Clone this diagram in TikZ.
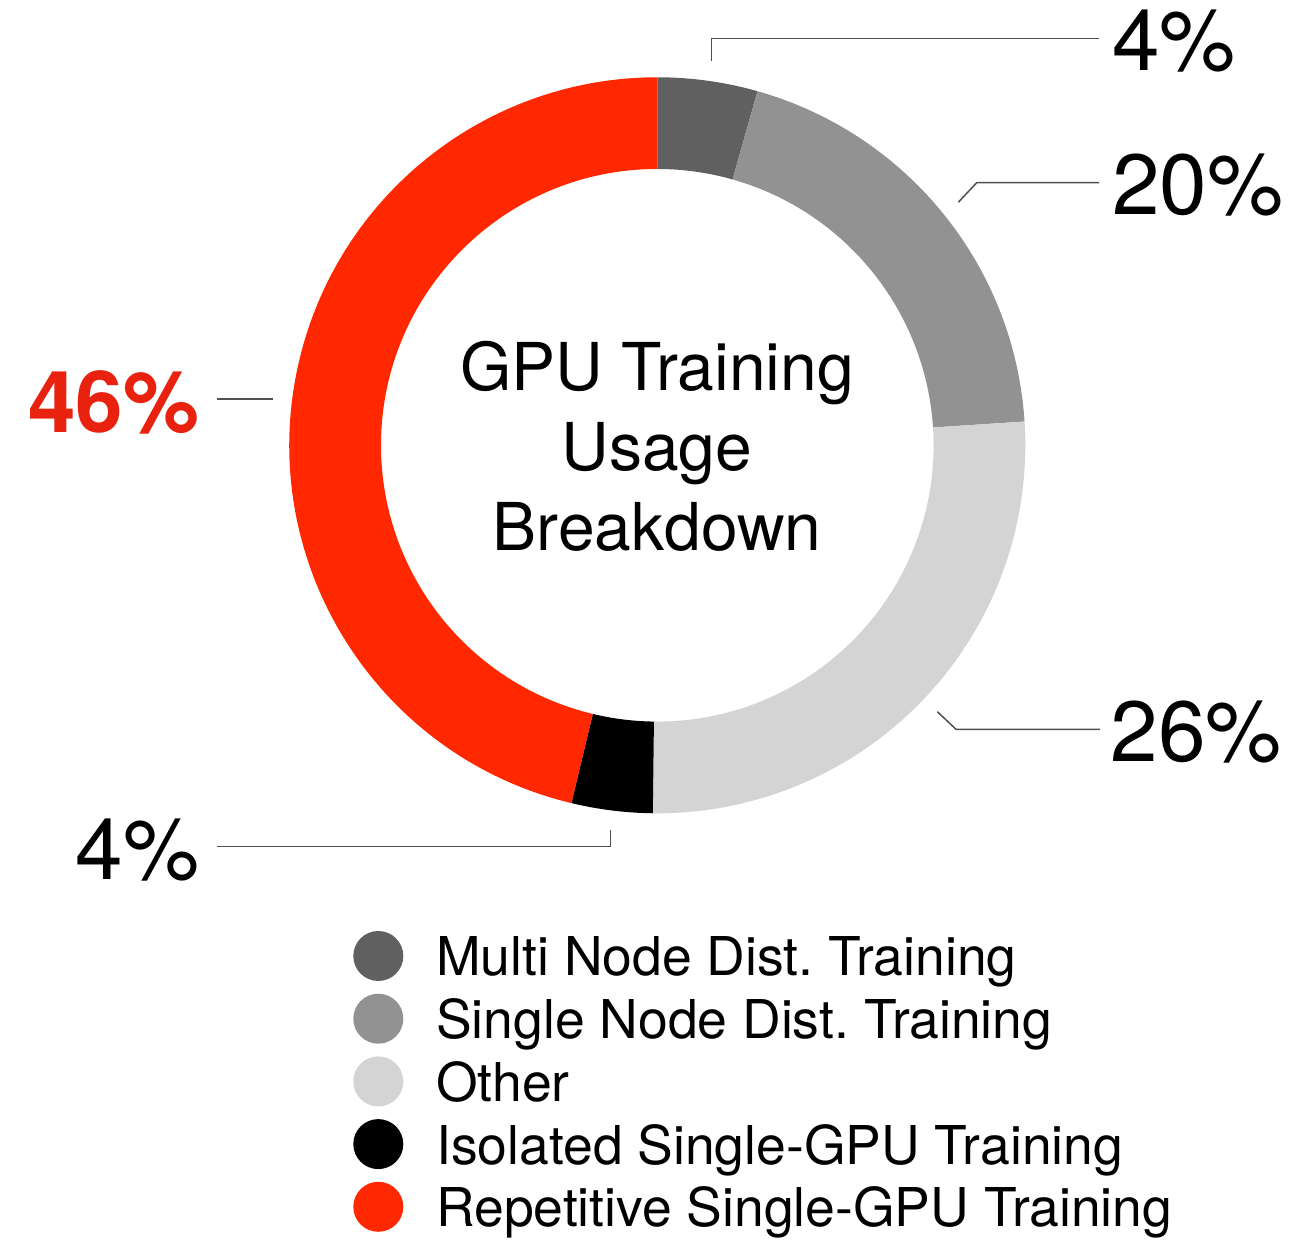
\documentclass[tikz,border=0pt]{standalone}
\usepackage{fontspec}
\setmainfont{TeX Gyre Heros}
\usetikzlibrary{calc}
\frenchspacing
\definecolor{cmulti}{RGB}{96,96,96}
\definecolor{csingle}{RGB}{146,146,146}
\definecolor{cother}{RGB}{212,212,212}
\definecolor{ciso}{RGB}{0,0,0}
\definecolor{crep}{RGB}{255,40,0}
\definecolor{credtext}{RGB}{232,34,14}
\definecolor{cleader}{RGB}{80,80,80}
\begin{document}
\begin{tikzpicture}[x=1pt,y=1pt,
  pct/.style={inner sep=0pt, font=\fontsize{85.5}{96}\selectfont},
  title/.style={inner sep=0pt, anchor=base, font=\fontsize{66}{80}\selectfont},
  legtext/.style={inner sep=0pt, anchor=base west, font=\fontsize{53.5}{64}\selectfont},
  legdot/.style={circle, inner sep=0pt, minimum size=50pt},
  leader/.style={draw=cleader, line width=1.5pt}]
\useasboundingbox (0,0) rectangle (1292,1241);
\fill[white] (0,0) rectangle (1292,1241);
\coordinate (C) at (657.3,795.7);
\def\Ro{368}
\def\Ri{276.3}
% donut segments
\foreach \a/\b/\c in {90/74.2/cmulti, 74.2/3.7/csingle, 3.7/-90.7/cother, -90.7/-103.5/ciso, -103.5/-270/crep}{
  \fill[\c] ($(C)+(\a:\Ro)$) arc[start angle=\a, end angle=\b, radius=\Ro]
    -- ($(C)+(\b:\Ri)$) arc[start angle=\b, end angle=\a, radius=\Ri] -- cycle;
}
% centre title
\node[title] (t1) at (657,850) {GPU Training};
\node[title] (t2) at (657,770) {Usage};
\node[title] (t3) at (657,690) {Breakdown};
% percentage labels
\node[pct, anchor=base west] (p1) at (1112,1170.3) {4\%};
\node[pct, anchor=base west] (p2) at (1112,1026) {20\%};
\node[pct, anchor=base west] (p3) at (1110.5,479.3) {26\%};
\node[pct, anchor=base east, text=credtext, font=\fontsize{85.5}{96}\selectfont\bfseries] (p5) at (199.5,808.3) {46\%};
\node[pct, anchor=base east] (p4) at (199.5,361) {4\%};
% leader lines
\coordinate (l1a) at (711.7,1180.3);
\coordinate (l1b) at (711.7,1202.7);
\coordinate (l1c) at (1099,1202.7);
\draw[leader] (l1a) -- (l1b) -- (l1c);
\coordinate (l2a) at (958.3,1038.7);
\coordinate (l2b) at (976.7,1058.3);
\coordinate (l2c) at (1099,1058.3);
\draw[leader] (l2a) -- (l2b) -- (l2c);
\coordinate (l3a) at (937.3,529.3);
\coordinate (l3b) at (956,511.7);
\coordinate (l3c) at (1100,511.7);
\draw[leader] (l3a) -- (l3b) -- (l3c);
\coordinate (l5a) at (216.7,842);
\coordinate (l5b) at (273.3,842);
\draw[leader] (l5a) -- (l5b);
\coordinate (l4a) at (216.7,394.3);
\coordinate (l4b) at (610.7,394.3);
\coordinate (l4c) at (610.7,411);
\draw[leader] (l4a) -- (l4b) -- (l4c);
% legend
\node[legdot, fill=cmulti]  (d1) at (378.3,285) {};
\node[legdot, fill=csingle] (d2) at (378.3,222.3) {};
\node[legdot, fill=cother]  (d3) at (378.3,159.6) {};
\node[legdot, fill=ciso]    (d4) at (378.3,96.9) {};
\node[legdot, fill=crep]    (d5) at (378.3,34.2) {};
\node[legtext] (g1) at (436,265) {Multi Node Dist. Training};
\node[legtext] (g2) at (436,202.3) {Single Node Dist. Training};
\node[legtext] (g3) at (436,139.6) {Other};
\node[legtext] (g4) at (436,76.9) {Isolated Single-GPU Training};
\node[legtext] (g5) at (436,14.2) {Repetitive Single-GPU Training};
\end{tikzpicture}
\end{document}
